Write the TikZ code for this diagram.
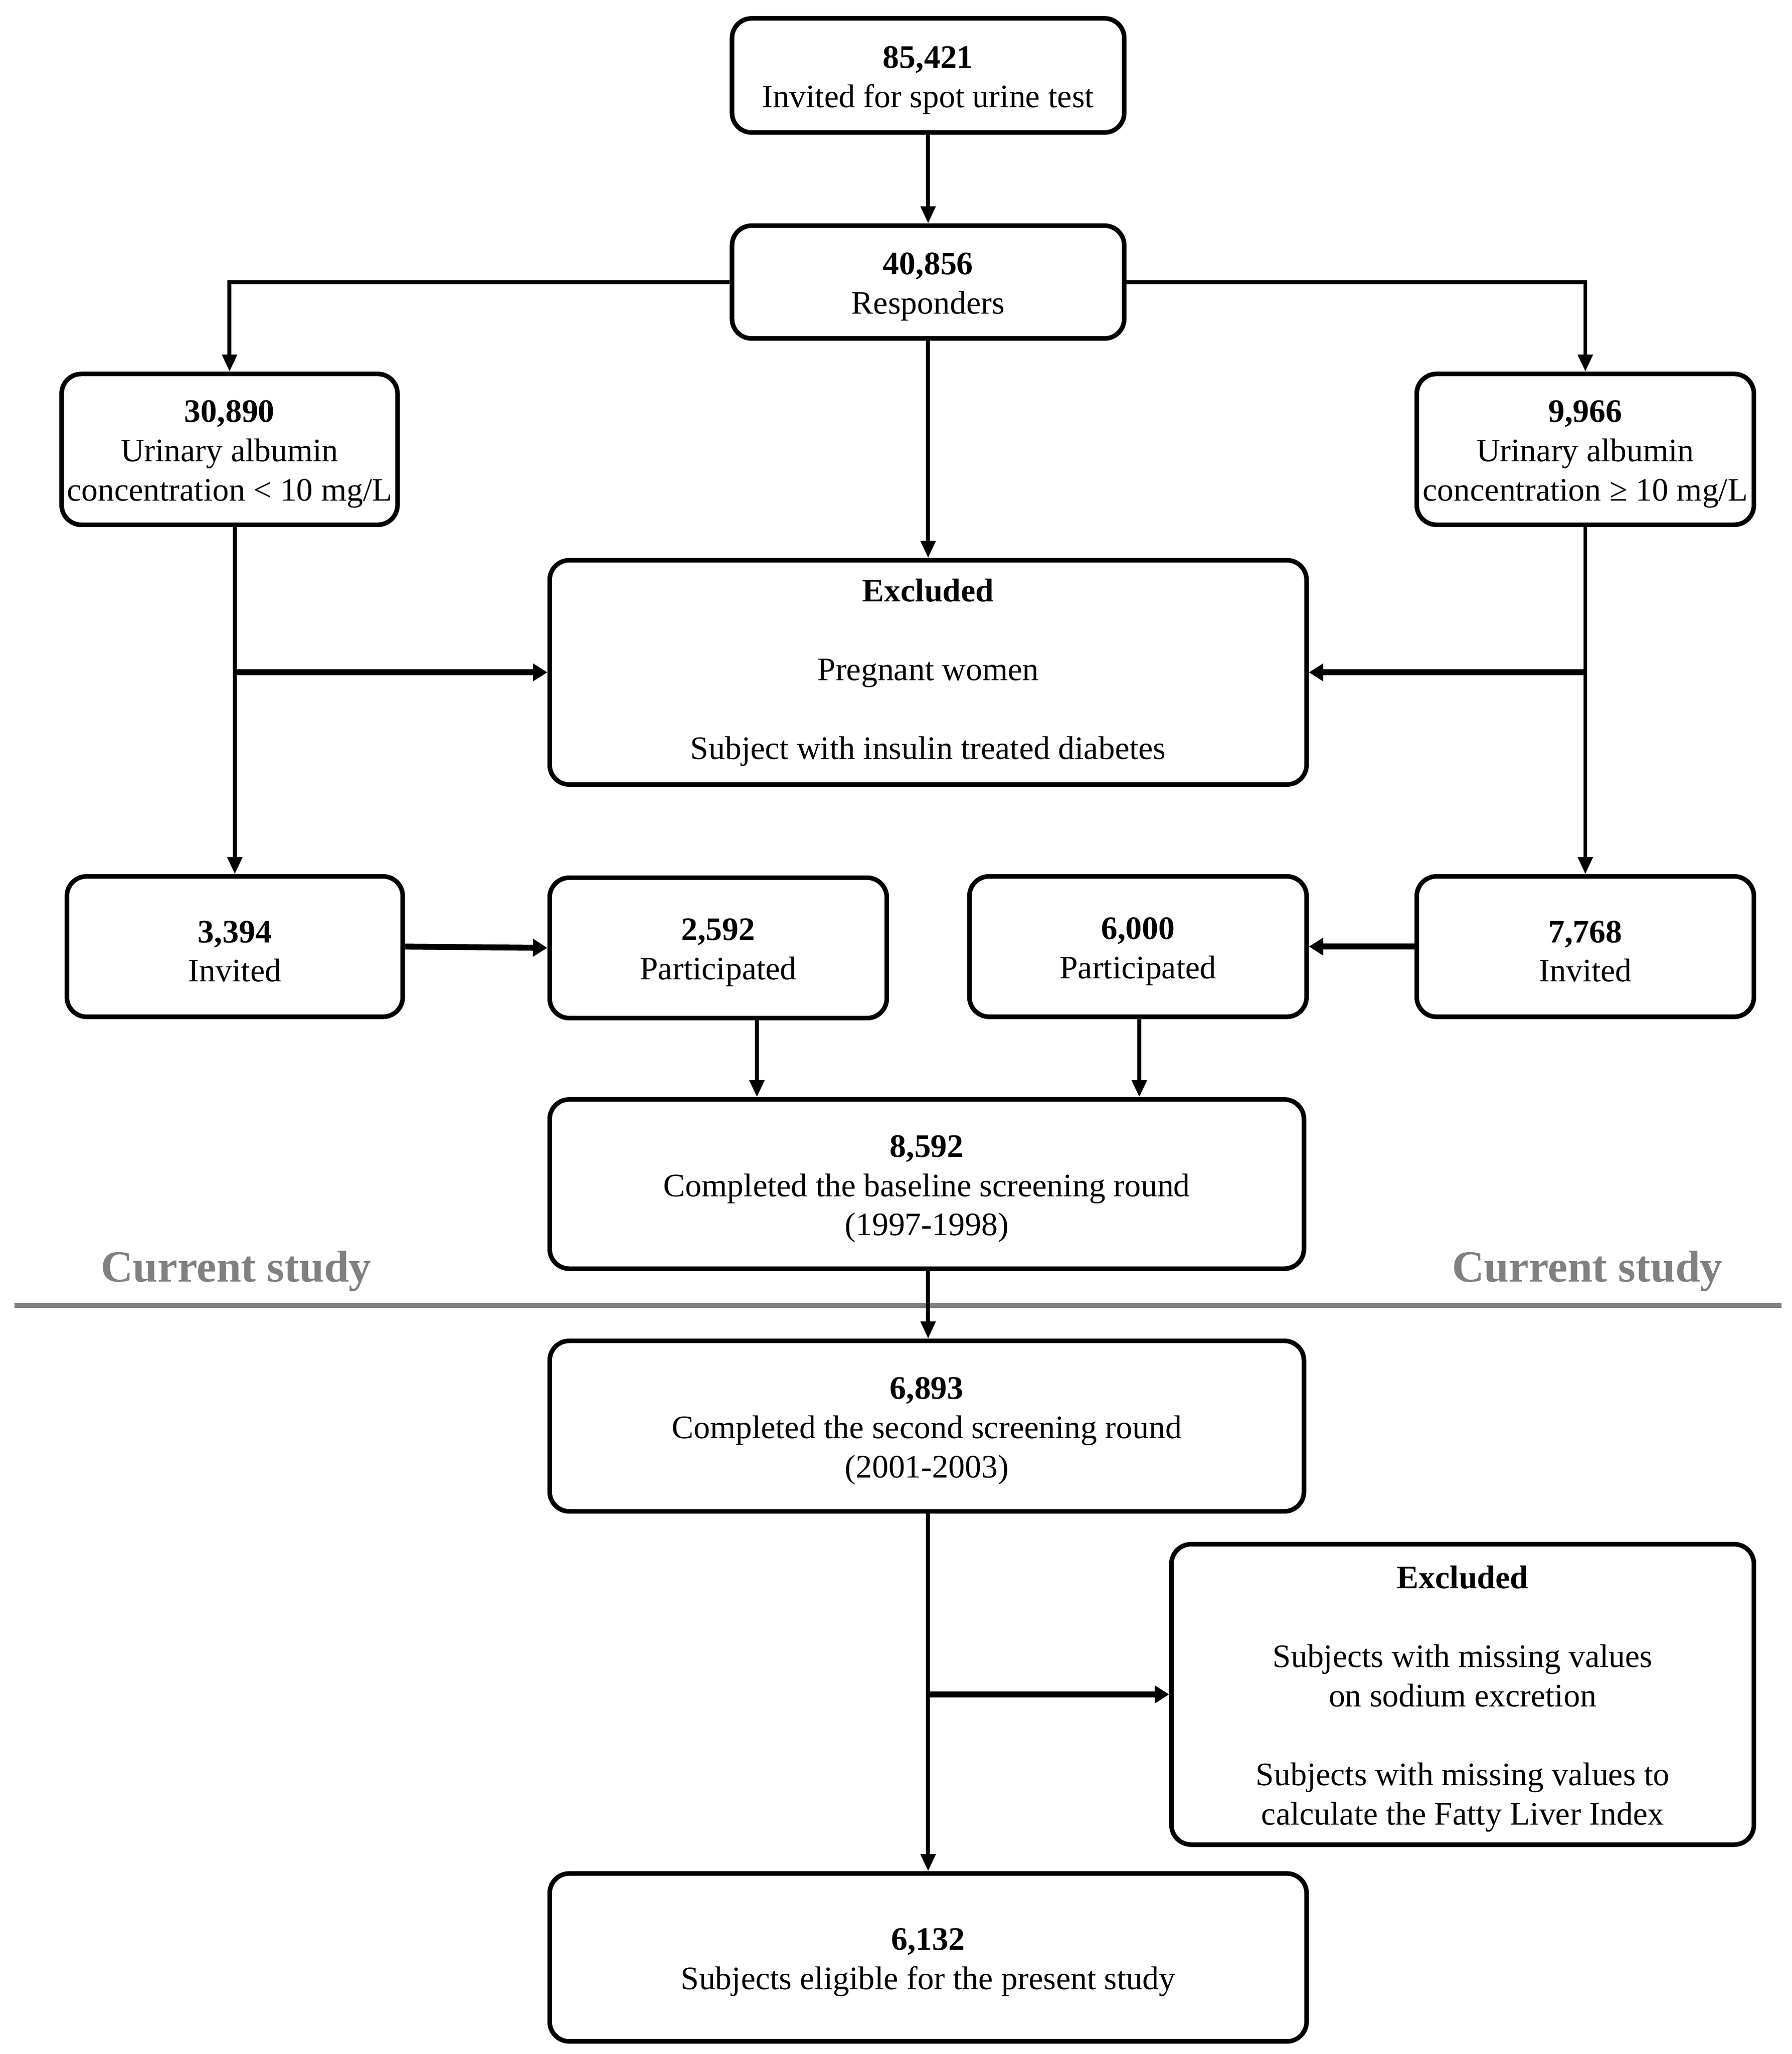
\documentclass[tikz,border=0pt]{standalone}
\usepackage{fontspec}
\setmainfont{Liberation Serif}
\usetikzlibrary{arrows.meta}
\definecolor{studygray}{RGB}{128,128,128}
\newcommand{\tstrut}{\rule{0pt}{24pt}}
\tikzset{
  box/.style={draw, line width=3.5pt, rounded corners=15pt, align=center, inner sep=0pt,
    font=\fontsize{25}{30}\selectfont},
  arr/.style={line width=3pt, -{Triangle[length=13pt,width=11pt]}},
  barr/.style={line width=4.5pt, -{Triangle[length=11pt,width=13pt]}},
  studylabel/.style={text=studygray, font=\fontsize{34}{40}\selectfont\bfseries, inner sep=0pt},
  sep/.style={draw=studygray, line width=4pt}
}
\begin{document}
\begin{tikzpicture}[x=1pt,y=-1pt]
\useasboundingbox (0,0) rectangle (1366,1565.6);
\node[box, minimum width=299pt, minimum height=87pt] (n1) at (707.5,57.5) {\tstrut\textbf{85,421}\\Invited for spot urine test};
\node[box, minimum width=299pt, minimum height=86pt] (n2) at (707.5,215) {\tstrut\textbf{40,856}\\Responders};
\node[box, minimum width=256pt, minimum height=115pt] (n3) at (175,342.5) {\tstrut\textbf{30,890}\\Urinary albumin\\concentration < 10 mg/L};
\node[box, minimum width=257pt, minimum height=115pt] (n4) at (1208.5,342.5) {\tstrut\textbf{9,966}\\Urinary albumin\\concentration ≥ 10 mg/L};
\node[box, minimum width=577pt, minimum height=171pt] (ex1) at (707.5,512.5) {\textbf{Excluded}\\[30pt]Pregnant women\\[30pt]Subject with insulin treated diabetes};
\node[box, minimum width=256pt, minimum height=107pt] (i1) at (179,721.5) {\tstrut\textbf{3,394}\\Invited};
\node[box, minimum width=257pt, minimum height=107pt] (p1) at (547.5,722.5) {\tstrut\textbf{2,592}\\Participated};
\node[box, minimum width=257pt, minimum height=107pt] (p2) at (867.5,721.5) {\tstrut\textbf{6,000}\\Participated};
\node[box, minimum width=257pt, minimum height=107pt] (i2) at (1208.5,721.5) {\tstrut\textbf{7,768}\\Invited};
\node[box, minimum width=575pt, minimum height=129pt] (n85) at (706.5,902.5) {\tstrut\textbf{8,592}\\Completed the baseline screening round\\(1997-1998)};
\node[box, minimum width=575pt, minimum height=130pt] (n68) at (706.5,1087) {\tstrut\textbf{6,893}\\Completed the second screening round\\(2001-2003)};
\node[box, minimum width=444pt, minimum height=229pt] (ex2) at (1115,1291.5) {\tstrut\textbf{Excluded}\\[30pt]Subjects with missing values\\on sodium excretion\\[30pt]Subjects with missing values to\\calculate the Fatty Liver Index};
\node[box, minimum width=577pt, minimum height=128pt] (n61) at (707.5,1492) {\tstrut\textbf{6,132}\\Subjects eligible for the present study};

\node[studylabel] (csl) at (180,969) {Current study};
\node[studylabel] (csr) at (1210,969) {Current study};
\coordinate (gl) at (11,995);
\coordinate (gr) at (1358,995);
\draw[sep] (gl) -- (gr);

\draw[arr] (n1) -- (n2);
\draw[arr] (n2.west) -| (n3.north);
\draw[arr] (n2.east) -| (n4.north);
\draw[arr] (n2.south) -- (ex1.north);
\draw[arr] (n3.south -| i1) -- (i1.north);
\draw[arr] (n4.south -| i2) -- (i2.north);
\draw[barr] (ex1.west -| i1) -- (ex1.west);
\draw[barr] (ex1.east -| i2) -- (ex1.east);
\draw[barr] (i1.east) -- (p1.west);
\draw[barr] (i2.west) -- (p2.east);
\draw[arr] ([xshift=29.5pt]p1.south) -- ([xshift=29.5pt]p1.south |- n85.north);
\draw[arr] ([xshift=1pt]p2.south) -- ([xshift=1pt]p2.south |- n85.north);
\draw[arr] ([xshift=1pt]n85.south) -- ([xshift=1pt]n68.north);
\draw[arr] ([xshift=1pt]n68.south) -- ([xshift=1pt]n68.south |- n61.north);
\draw[barr] (ex2.west -| n68) -- (ex2.west);
\end{tikzpicture}
\end{document}
